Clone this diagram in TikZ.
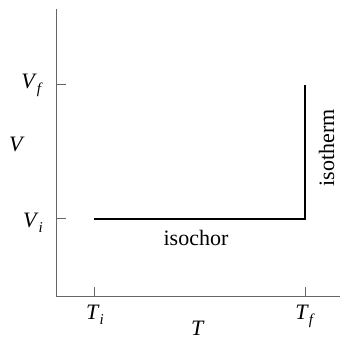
\documentclass[tikz,border=0pt]{standalone}
\usepackage{fontspec}
\setmainfont{LiberationSerif}[Extension=.ttf, UprightFont=*-Regular, ItalicFont=*-Italic, BoldFont=*-Bold, BoldItalicFont=*-BoldItalic]
\newcommand{\symsub}[2]{\textit{#1}\raisebox{-0.22em}{\fontsize{15}{15}\selectfont\textit{#2}}}
\begin{document}
\begin{tikzpicture}[x=1pt,y=1pt,
  axisline/.style={draw=black!60, line width=1pt},
  pathline/.style={draw=black, line width=2pt},
  lbl/.style={inner sep=0pt, font=\fontsize{22}{26}\selectfont}]
\useasboundingbox (0,0) rectangle (340,340);
% axes
\coordinate (O) at (56,43);
\coordinate (ytop) at (56,331);
\coordinate (xend) at (340,43);
\draw[axisline] (ytop) -- (O) -- (xend);
% ticks
\coordinate (vf0) at (56,255); \coordinate (vf1) at (66,255);
\coordinate (vi0) at (56,121); \coordinate (vi1) at (66,121);
\coordinate (ti0) at (94,43);  \coordinate (ti1) at (94,53);
\coordinate (tf0) at (305,43); \coordinate (tf1) at (305,53);
\draw[axisline] (vf0) -- (vf1);
\draw[axisline] (vi0) -- (vi1);
\draw[axisline] (ti0) -- (ti1);
\draw[axisline] (tf0) -- (tf1);
% process path
\coordinate (A) at (94,121);
\coordinate (B) at (305,121);
\coordinate (C) at (305,255);
\draw[pathline] (A) -- (B) -- (C);
% labels
\node[lbl, anchor=base east] (Vf) at (43,251) {\symsub{V}{f}};
\node[lbl, anchor=base east] (Vi) at (43,112) {\symsub{V}{i}};
\node[lbl, anchor=base west] (V) at (9,188) {\textit{V}};
\node[lbl, anchor=base] (Ti) at (95,20) {\symsub{T}{i}};
\node[lbl, anchor=base] (Tf) at (305,20) {\symsub{T}{f}};
\node[lbl, anchor=base] (T) at (198,5) {\textit{T}};
\node[lbl, anchor=base] (iso) at (196,94) {isochor};
\node[lbl, anchor=base, rotate=90] (ith) at (334,192) {isotherm};
\end{tikzpicture}
\end{document}
